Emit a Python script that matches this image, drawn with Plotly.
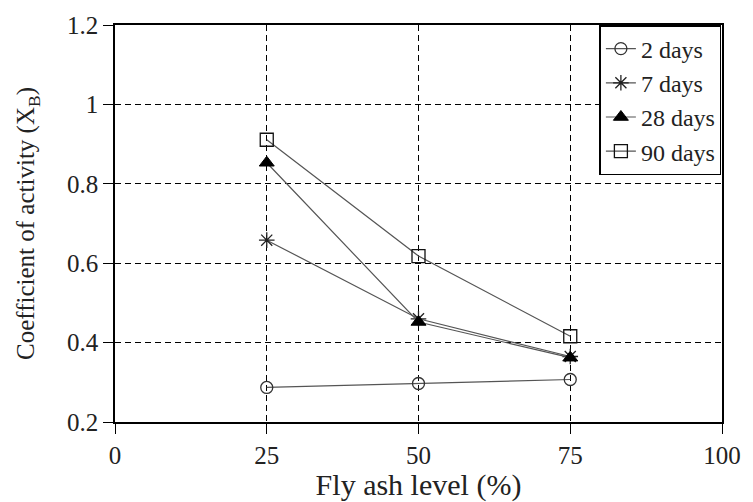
import plotly.graph_objects as go

fly_ash = [25, 50, 75]
days_2 = [0.287, 0.297, 0.307]
days_7 = [0.658, 0.460, 0.365]
days_28 = [0.853, 0.452, 0.362]
days_90 = [0.911, 0.618, 0.416]
series_names = ["2 days", "7 days", "28 days", "90 days"]
x_ticks = [0, 25, 50, 75, 100]
y_ticks = [0.2, 0.4, 0.6, 0.8, 1.0, 1.2]
y_tick_text = ["0.2", "0.4", "0.6", "0.8", "1", "1.2"]

FONT = "Liberation Serif, Times New Roman, serif"

styles = [
    dict(symbol="circle-open", size=12, color="#333", lw=1.3),
    dict(symbol="asterisk-open", size=13, color="#222", lw=1.3),
    dict(symbol="triangle-up", size=13, color="#000", lw=1),
    dict(symbol="square-open", size=13, color="#111", lw=1.3),
]

fig = go.Figure()
for i, (name, vals, st) in enumerate(zip(series_names, [days_2, days_7, days_28, days_90], styles)):
    fig.add_trace(go.Scatter(
        x=fly_ash, y=vals, name=name, mode="lines+markers", legendgroup="g%d" % i,
        line=dict(color="#555", width=1.2),
        marker=dict(symbol=st["symbol"], size=st["size"], color=st["color"],
                    line=dict(color=st["color"], width=st["lw"])),
    ))

axis_common = dict(
    showline=True, linecolor="black", linewidth=1.5, mirror=True,
    ticks="outside", ticklen=10, tickwidth=1.2, tickcolor="black",
    showgrid=True, gridcolor="black", gridwidth=1, griddash="6px,4px",
    zeroline=False, tickfont=dict(family=FONT, size=25, color="#222"),
)

fig.update_xaxes(range=[0, 100], tickvals=x_ticks, **axis_common,
                 title=dict(text="Fly ash level (%)", font=dict(family=FONT, size=30, color="#222"), standoff=0))
fig.update_yaxes(range=[0.2, 1.2], tickvals=y_ticks, ticktext=y_tick_text, **axis_common,
                 title=dict(text="Coefficient of activity (X<sub>B</sub>)", font=dict(family=FONT, size=25, color="#222"), standoff=25))

fig.update_layout(
    width=753, height=502,
    margin=dict(l=115, r=21, t=24, b=79),
    plot_bgcolor="white", paper_bgcolor="white",
    font=dict(family=FONT, color="black"),
    legend=dict(x=0.999, xanchor="right", y=1.0, yanchor="top",
                bgcolor="white", bordercolor="black", borderwidth=1.5,
                font=dict(family=FONT, size=24, color="#222"),
                tracegroupgap=0, itemwidth=30),
    showlegend=True,
)

fig.write_html("out.html")
